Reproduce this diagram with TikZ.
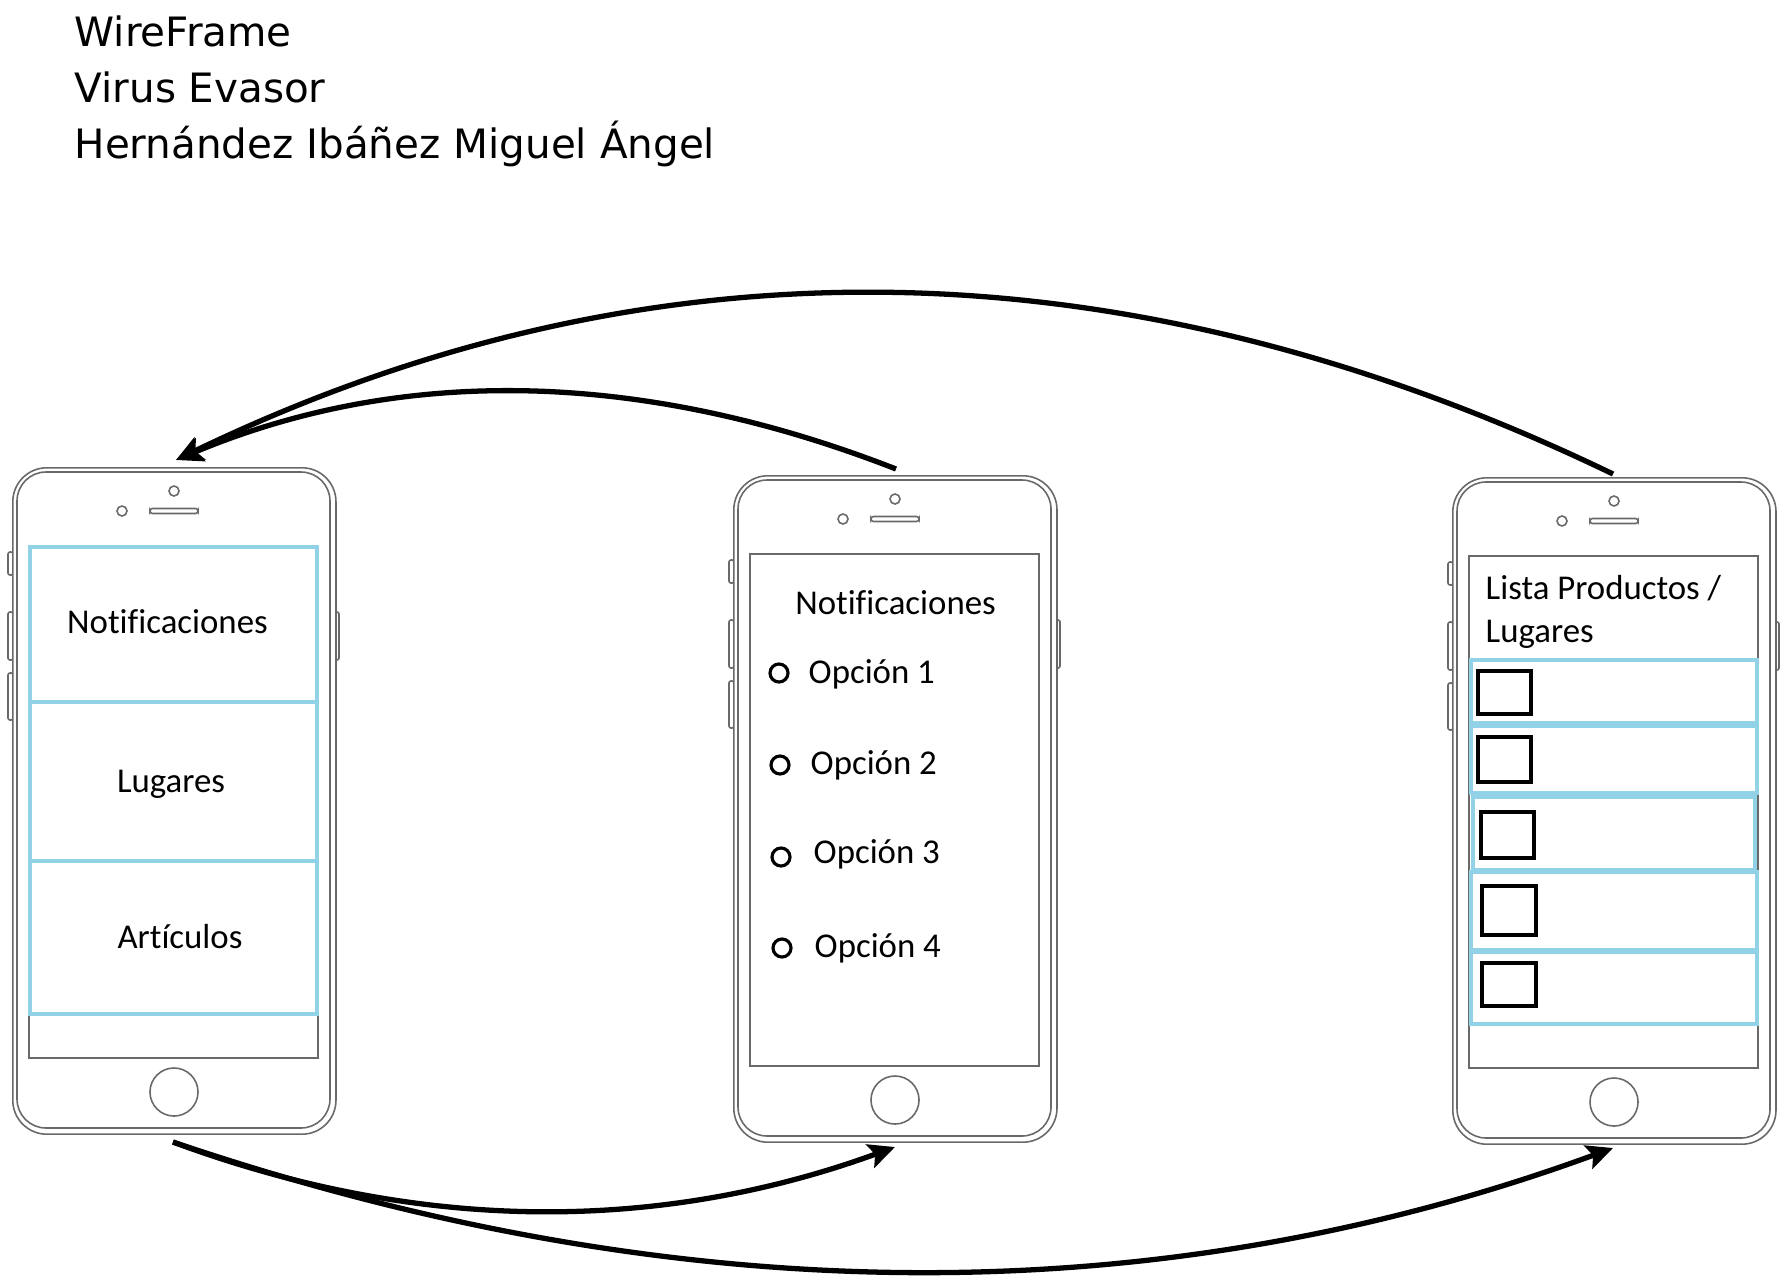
\documentclass[tikz,border=0pt]{standalone}
\usepackage{fontspec}
\setmainfont[Ligatures=NoCommon]{Carlito}
\newfontfamily\titlefont{DejaVu Sans}
\usetikzlibrary{arrows.meta}
\definecolor{phonegray}{RGB}{105,105,105}
\definecolor{listblue}{RGB}{145,210,230}
\tikzset{
  phoneline/.style={draw=phonegray, line width=0.45pt},
  bluebox/.style={draw=listblue, line width=0.95pt},
  checkbox/.style={draw=black, line width=0.9pt},
  radio/.style={draw=black, line width=0.9pt},
  flow/.style={line width=1.5pt, -{Stealth[length=7.5pt,width=7pt,inset=1.5pt]}},
  titletext/.style={anchor=base west, inner sep=0, font=\titlefont\fontsize{11.5pt}{14pt}\selectfont},
  uitext/.style={inner sep=0, font=\fontsize{9.9pt}{12pt}\selectfont},
}
\newcommand\drawphone[3]{%
  \begin{scope}[shift={(#2,#3)}]
    \draw[phoneline, fill=white, rounded corners=0.02cm] (-4,85) rectangle (1,108);
    \draw[phoneline, fill=white, rounded corners=0.02cm] (-4,145) rectangle (1,193);
    \draw[phoneline, fill=white, rounded corners=0.02cm] (-4,206) rectangle (1,253);
    \draw[phoneline, fill=white, rounded corners=0.02cm] (322,145) rectangle (327,193);
    \node[phoneline, fill=white, rounded corners=0.34cm, minimum width=3.23cm,
          minimum height=6.66cm, inner sep=0, anchor=north west] (#1) at (0,0) {};
    \draw[phoneline, rounded corners=0.29cm] (5,5) rectangle (318,661);
    \draw[phoneline] (162,24) circle[radius=0.05cm];
    \draw[phoneline] (110,44) circle[radius=0.05cm];
    \draw[phoneline, rounded corners=0.025cm] (138,41.5) rectangle (186,46.5);
    \draw[phoneline] (17,79) rectangle (306,591);
    \draw[phoneline] (162,625) circle[radius=0.24cm];
  \end{scope}}

\begin{document}
\begin{tikzpicture}[x=0.01cm,y=-0.01cm]
\useasboundingbox (0,0) rectangle (1786,1276);

% title
\node[titletext] (t1) at (74,47) {WireFrame};
\node[titletext] (t2) at (74,103) {Virus Evasor};
\node[titletext] (t3) at (74,159) {Hernández Ibáñez Miguel Ángel};

% phones
\drawphone{L}{12}{467}
\drawphone{M}{733}{475}
\drawphone{R}{1452}{477}

% left phone content
\draw[bluebox] (30,547) rectangle (317,702);
\draw[bluebox] (30,702) rectangle (317,861);
\draw[bluebox] (30,861) rectangle (317,1014);
\node[uitext, anchor=base] (l1) at (167.5,633) {Notificaciones};
\node[uitext, anchor=base] (l2) at (171,792) {Lugares};
\node[uitext, anchor=base] (l3) at (180,948) {Artículos};

% middle phone content
\node[uitext, anchor=base] (m0) at (895.5,614) {Notificaciones};
\draw[radio] (779,673) circle[radius=0.09cm];
\draw[radio] (780,765) circle[radius=0.09cm];
\draw[radio] (781,857) circle[radius=0.09cm];
\draw[radio] (782,948) circle[radius=0.09cm];
\node[uitext, anchor=base west] (o1) at (808,683) {Opción 1};
\node[uitext, anchor=base west] (o2) at (810,774) {Opción 2};
\node[uitext, anchor=base west] (o3) at (813,863) {Opción 3};
\node[uitext, anchor=base west] (o4) at (814,957) {Opción 4};

% right phone content
\node[uitext, anchor=base west] (r1) at (1485,599) {Lista Productos /};
\node[uitext, anchor=base west] (r2) at (1485,642) {Lugares};
\draw[bluebox] (1471,660) rectangle (1757,723);
\draw[bluebox] (1471,726) rectangle (1757,793);
\draw[bluebox] (1473,797) rectangle (1755,870);
\draw[bluebox] (1471,872) rectangle (1757,950);
\draw[bluebox] (1471,952) rectangle (1757,1024);
\draw[checkbox] (1478,671) rectangle (1531,714);
\draw[checkbox] (1478,737) rectangle (1531,782);
\draw[checkbox] (1481,812) rectangle (1534,858);
\draw[checkbox] (1482,886) rectangle (1536,935);
\draw[checkbox] (1482,963) rectangle (1536,1006);

% connector ends
\coordinate (Ltop) at (176,460);
\coordinate (Lbot) at (173,1142);
\coordinate (Mtop) at (896,469);
\coordinate (Mbot) at (895,1147);
\coordinate (Rtop) at (1613,474);
\coordinate (Rbot) at (1613,1148);

% connectors
\draw[flow] (Mtop) .. controls (640,369) and (400,366) .. (Ltop);
\draw[flow] (Rtop) .. controls (1124,238) and (646,233) .. (Ltop);
\draw[flow] (Lbot) .. controls (415,1232) and (656,1234) .. (Mbot);
\draw[flow] (Lbot) .. controls (677,1313) and (1157,1315) .. (Rbot);
\end{tikzpicture}
\end{document}
